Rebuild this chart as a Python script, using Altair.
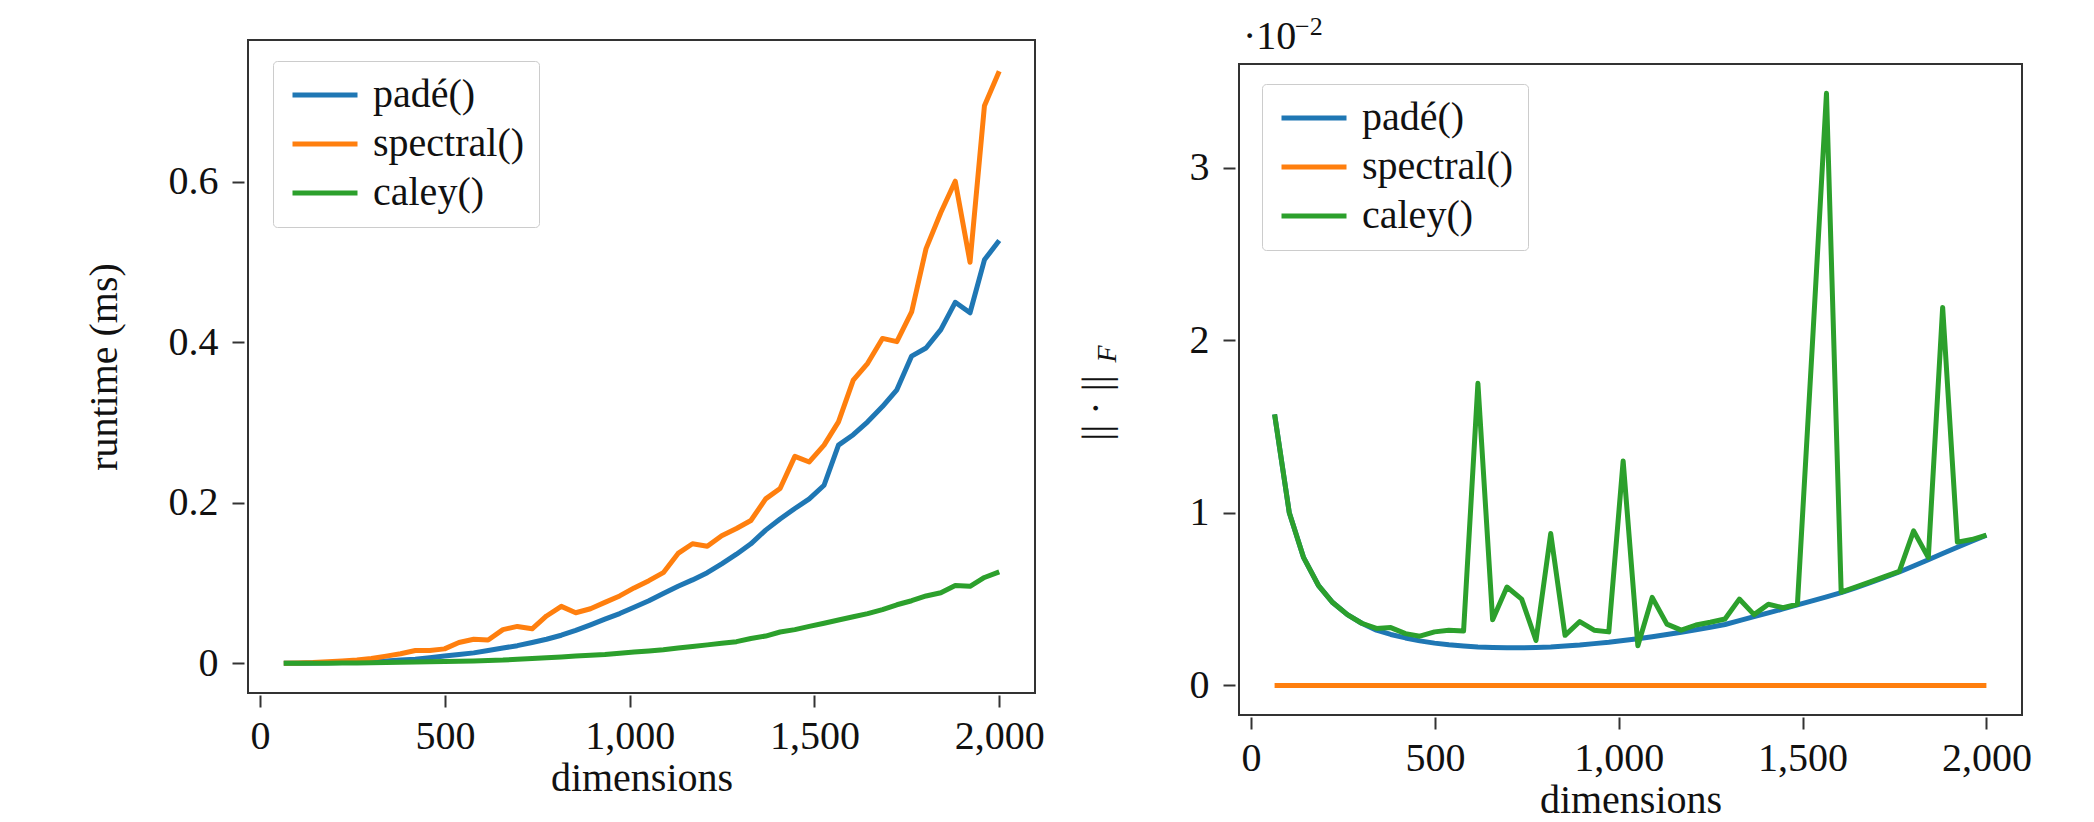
import altair as alt
import pandas as pd

dims = [64, 104, 143, 183, 222, 262, 301, 341, 380, 420, 459, 499, 538, 578, 617, 657, 696,
        736, 775, 815, 854, 894, 933, 973, 1012, 1052, 1091, 1131, 1170, 1210, 1249, 1289,
        1328, 1368, 1407, 1447, 1486, 1526, 1565, 1605, 1644, 1684, 1723, 1763, 1802, 1842,
        1881, 1921, 1960, 2000]

series = ["padé()", "spectral()", "caley()"]
colors = ["#1f77b4", "#ff7f0e", "#2ca02c"]

runtime_pade = [0.0, 0.0002, 0.0004, 0.0007, 0.001, 0.0015, 0.002, 0.003, 0.004, 0.005,
                0.007, 0.009, 0.011, 0.013, 0.016, 0.019, 0.022, 0.026, 0.030, 0.035,
                0.041, 0.048, 0.055, 0.062, 0.070, 0.078, 0.087, 0.096, 0.104, 0.113,
                0.124, 0.136, 0.149, 0.166, 0.180, 0.193, 0.205, 0.222, 0.272, 0.285,
                0.301, 0.320, 0.341, 0.383, 0.393, 0.416, 0.450, 0.437, 0.503, 0.527]
runtime_spectral = [0.0, 0.0005, 0.001, 0.002, 0.003, 0.004, 0.006, 0.009, 0.012, 0.016,
                    0.016, 0.018, 0.026, 0.030, 0.029, 0.042, 0.046, 0.043, 0.059, 0.071,
                    0.063, 0.068, 0.076, 0.084, 0.094, 0.103, 0.113, 0.137, 0.149, 0.146,
                    0.159, 0.168, 0.178, 0.205, 0.218, 0.258, 0.251, 0.272, 0.301, 0.353,
                    0.374, 0.405, 0.401, 0.438, 0.517, 0.562, 0.601, 0.500, 0.695, 0.738]
runtime_caley = [0.0, 0.0, 0.0001, 0.0002, 0.0003, 0.0005, 0.0007, 0.001, 0.0012, 0.0015,
                 0.0018, 0.0022, 0.0026, 0.003, 0.0035, 0.004, 0.005, 0.006, 0.007, 0.008,
                 0.009, 0.010, 0.011, 0.0125, 0.014, 0.0155, 0.017, 0.019, 0.021, 0.023,
                 0.025, 0.027, 0.031, 0.034, 0.039, 0.042, 0.046, 0.050, 0.054, 0.058,
                 0.062, 0.067, 0.073, 0.078, 0.084, 0.088, 0.097, 0.096, 0.107, 0.114]

# Frobenius-norm error, in units of 10^-2
error_pade = [1.57, 1.00, 0.74, 0.58, 0.48, 0.41, 0.36, 0.32, 0.295, 0.275,
              0.258, 0.245, 0.235, 0.228, 0.223, 0.22, 0.218, 0.218, 0.22, 0.223,
              0.228, 0.234, 0.242, 0.25, 0.26, 0.27, 0.282, 0.295, 0.308, 0.322,
              0.337, 0.353, 0.375, 0.398, 0.42, 0.443, 0.466, 0.49, 0.513, 0.537,
              0.565, 0.595, 0.625, 0.657, 0.692, 0.728, 0.764, 0.8, 0.835, 0.87]
error_spectral = [0.0, 0.0, 0.0, 0.0, 0.0, 0.0, 0.0, 0.0, 0.0, 0.0,
                  0.0, 0.0, 0.0, 0.0, 0.0, 0.0, 0.0, 0.0, 0.0, 0.0,
                  0.0, 0.0, 0.0, 0.0, 0.0, 0.0, 0.0, 0.0, 0.0, 0.0,
                  0.0, 0.0, 0.0, 0.0, 0.0, 0.0, 0.0, 0.0, 0.0, 0.0,
                  0.0, 0.0, 0.0, 0.0, 0.0, 0.0, 0.0, 0.0, 0.0, 0.0]
error_caley = [1.57, 1.00, 0.74, 0.58, 0.48, 0.41, 0.36, 0.33, 0.335, 0.30,
               0.285, 0.31, 0.32, 0.315, 1.75, 0.38, 0.57, 0.50, 0.26, 0.88,
               0.29, 0.37, 0.32, 0.31, 1.30, 0.23, 0.51, 0.355, 0.32, 0.35,
               0.366, 0.385, 0.50, 0.41, 0.47, 0.45, 0.47, 1.95, 3.43, 0.54,
               0.57, 0.60, 0.63, 0.66, 0.895, 0.74, 2.19, 0.83, 0.845, 0.87]

x_ticks = [0, 500, 1000, 1500, 2000]
runtime_ticks = [0, 0.2, 0.4, 0.6]
error_ticks = [0, 1, 2, 3]

FONT = "Liberation Serif"
INK = "#111111"
NO_FRAME = alt.ViewBackground(stroke="transparent")


def to_long(values):
    rows = []
    for name, vals in zip(series, values):
        for d, v in zip(dims, vals):
            rows.append({"dimensions": d, "value": v, "method": name})
    return pd.DataFrame(rows)


df_runtime = to_long([runtime_pade, runtime_spectral, runtime_caley])
df_error = to_long([error_pade, error_spectral, error_caley])

axis_style = dict(
    domain=False, grid=False, tickSize=12, tickWidth=2, tickColor="#333333",
    labelFont=FONT, labelFontSize=40, labelColor=INK,
    titleFont=FONT, titleFontSize=40, titleFontWeight="normal", titleColor=INK,
)


def x_enc():
    return alt.X(
        "dimensions:Q",
        scale=alt.Scale(domain=[-32.8, 2096.8], nice=False, zero=False),
        axis=alt.Axis(values=x_ticks, format=",d", title="dimensions",
                      offset=2, labelPadding=9, titlePadding=2, **axis_style),
    )


def color_enc(lx, ly):
    return alt.Color(
        "method:N",
        scale=alt.Scale(domain=series, range=colors),
        sort=series,
        legend=alt.Legend(
            title=None, orient="none", legendX=lx, legendY=ly,
            symbolType="stroke", symbolSize=4225, symbolStrokeWidth=5,
            symbolOffset=3, clipHeight=40,
            labelFont=FONT, labelFontSize=40, labelColor=INK, labelOffset=13,
            padding=14, rowPadding=9, strokeColor="#cccccc", fillColor="white",
            cornerRadius=4,
        ),
    )


def one(text):
    return pd.DataFrame({"t": [text]})


# ---------------- left panel: runtime ----------------
left_plot = alt.Chart(df_runtime).mark_line(strokeWidth=5, strokeJoin="round").encode(
    x=x_enc(),
    y=alt.Y(
        "value:Q",
        scale=alt.Scale(domain=[-0.037, 0.777], nice=False, zero=False),
        axis=alt.Axis(values=runtime_ticks, title="runtime (ms)", offset=4,
                      labelExpr="datum.value == 0 ? '0' : format(datum.value, '.1f')",
                      labelPadding=14, titlePadding=44, **axis_style),
    ),
    color=color_enc(25, 21),
).properties(width=787, height=653)

# empty strip above the left panel (the right panel's frame sits 24 px lower)
left_strip = alt.Chart(one(" ")).mark_text(font=FONT, fontSize=10).encode(
    text="t:N", x=alt.value(5), y=alt.value(12)
).properties(width=787, height=24, view=NO_FRAME)

left_col = alt.vconcat(left_strip, left_plot, spacing=0).resolve_scale(
    color="independent").resolve_legend(color="independent")

# ---------------- right panel: error ----------------
right_lines = alt.Chart(df_error).mark_line(strokeWidth=5, strokeJoin="round").encode(
    x=x_enc(),
    y=alt.Y(
        "value:Q",
        scale=alt.Scale(domain=[-0.1715, 3.6], nice=False, zero=False),
        axis=alt.Axis(values=error_ticks, format="d", title=None, offset=4,
                      labelPadding=14, **axis_style),
    ),
    color=color_enc(23, 20),
)

norm_title = alt.Chart(one("|| · ||")).mark_text(
    font=FONT, fontSize=40, align="center", baseline="middle", angle=270, color=INK
).encode(text="t:N", x=alt.value(-142), y=alt.value(344))
norm_sub = alt.Chart(one("F")).mark_text(
    font=FONT, fontSize=28, fontStyle="italic", align="center", baseline="middle",
    angle=270, color=INK
).encode(text="t:N", x=alt.value(-131), y=alt.value(290))

right_plot = alt.layer(right_lines, norm_title, norm_sub).properties(width=783, height=651)

# the "·10^-2" multiplier above the right frame
STRIP_H = 48
exp_base = alt.Chart(one("·10")).mark_text(
    font=FONT, fontSize=40, align="left", baseline="alphabetic", color=INK
).encode(text="t:N", x=alt.value(4), y=alt.value(STRIP_H - 13))
exp_power = alt.Chart(one("−2")).mark_text(
    font=FONT, fontSize=26, align="left", baseline="alphabetic", color=INK
).encode(text="t:N", x=alt.value(56), y=alt.value(STRIP_H - 27))
right_strip = alt.layer(exp_base, exp_power).properties(
    width=783, height=STRIP_H, view=NO_FRAME
)

right_col = alt.vconcat(right_strip, right_plot, spacing=0).resolve_scale(
    color="independent").resolve_legend(color="independent")

chart = (
    alt.hconcat(left_col, right_col, spacing=30)
    .resolve_scale(color="independent")
    .resolve_legend(color="independent")
    .properties(padding={"left": 83, "top": 13, "right": 5, "bottom": 0}, background="white")
    .configure_view(stroke="#333333", strokeWidth=2)
)

chart.save("out.html", embed_options={"renderer": "svg", "actions": False})
